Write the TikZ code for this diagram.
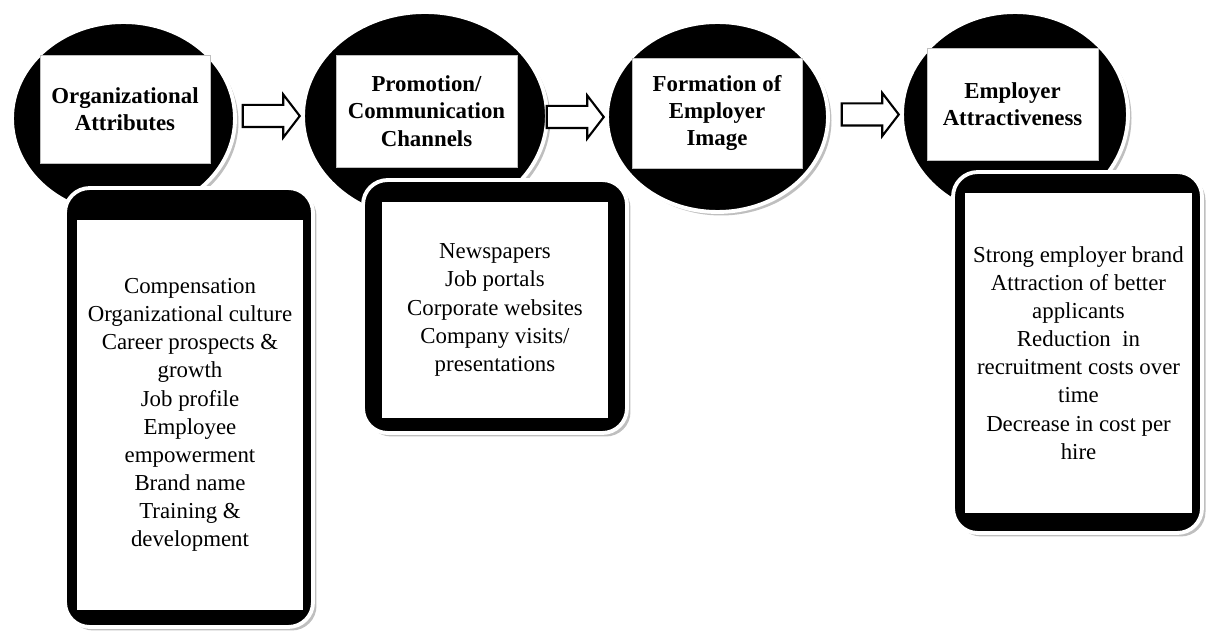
\documentclass[tikz,border=0pt]{standalone}
\usepackage{fontspec}
\setmainfont{Liberation Serif}
\usetikzlibrary{shapes.geometric,shapes.arrows,shadows,positioning}

\begin{document}
\begin{tikzpicture}[x=0.02cm, y=-0.02cm,
  C/.style={ellipse, fill=black, draw=white, line width=2.2pt, inner sep=0pt,
    drop shadow={shadow xshift=2pt, shadow yshift=-2pt, fill=black!25, opacity=1}},
  T/.style={fill=white, draw=black!25, line width=0.4pt, align=center, inner sep=0pt,
    font=\fontsize{13}{15.6}\selectfont\bfseries},
  F/.style={rounded corners=14pt, fill=black, draw=white, line width=2.2pt,
    drop shadow={shadow xshift=2pt, shadow yshift=-2pt, fill=black!25, opacity=1}},
  W/.style={fill=white, align=center, inner sep=0pt,
    font=\fontsize{13}{16}\selectfont},
  arr/.style={single arrow, draw=black, fill=white, line width=1.2pt,
    single arrow head extend=0.21cm, single arrow tip angle=105,
    minimum height=1.14cm, inner xsep=0pt, inner ysep=0.2cm}]

  \useasboundingbox (0,0) rectangle (1206,631);

  % Stages along the top row
  \node[C, minimum width=4.46cm, minimum height=3.86cm] (attr) at (123.5,118.5) {};
  \node[T, minimum width=3.40cm, minimum height=2.16cm] (attrtitle) at (125,109)
    {Organizational\\Attributes};
  \node[C, minimum width=4.88cm, minimum height=4.16cm] (promo) at (425,116) {};
  \node[T, minimum width=3.62cm, minimum height=2.24cm] (promotitle) at (426.5,111)
    {Promotion/\\Communication\\Channels};
  \node[C, minimum width=4.42cm, minimum height=3.80cm] (image) at (717.5,117) {};
  \node[T, minimum width=3.40cm, minimum height=2.20cm] (imagetitle) at (717,113)
    {Formation of\\Employer\\Image};
  \node[C, minimum width=4.52cm, minimum height=4.10cm] (attract) at (1015,114.5) {};
  \node[T, minimum width=3.42cm, minimum height=2.24cm] (attracttitle) at (1012.5,104)
    {Employer\\Attractiveness};

  % Block arrows between the stages
  \foreach \a/\b in {attr/promo, promo/image, image/attract}
    \node[arr, left=0pt of \b] (\a to\b) {};

  % Detail boxes under the stages
  \node[F, minimum width=4.96cm, minimum height=8.78cm] (attrbox) at (189,407.5) {};
  \node[W, minimum width=4.52cm, minimum height=7.80cm] (attrlist) at (190,415)
    {Compensation\\Organizational culture\\Career prospects \&\\growth\\Job profile\\
     Employee\\empowerment\\Brand name\\Training \&\\development};
  \node[F, minimum width=5.28cm, minimum height=5.06cm] (promobox) at (495,306.5) {};
  \node[W, minimum width=4.52cm, minimum height=4.32cm] (promolist) at (495,310)
    {Newspapers\\Job portals\\Corporate websites\\Company visits/\\presentations};
  \node[F, minimum width=4.98cm, minimum height=7.22cm] (attractbox) at (1077.5,352.5) {};
  \node[W, minimum width=4.54cm, minimum height=6.40cm] (attractlist) at (1078.5,353)
    {Strong employer brand\\Attraction of better\\applicants\\Reduction\ \ in\\
     recruitment costs over\\time\\Decrease in cost per\\hire};
\end{tikzpicture}
\end{document}
